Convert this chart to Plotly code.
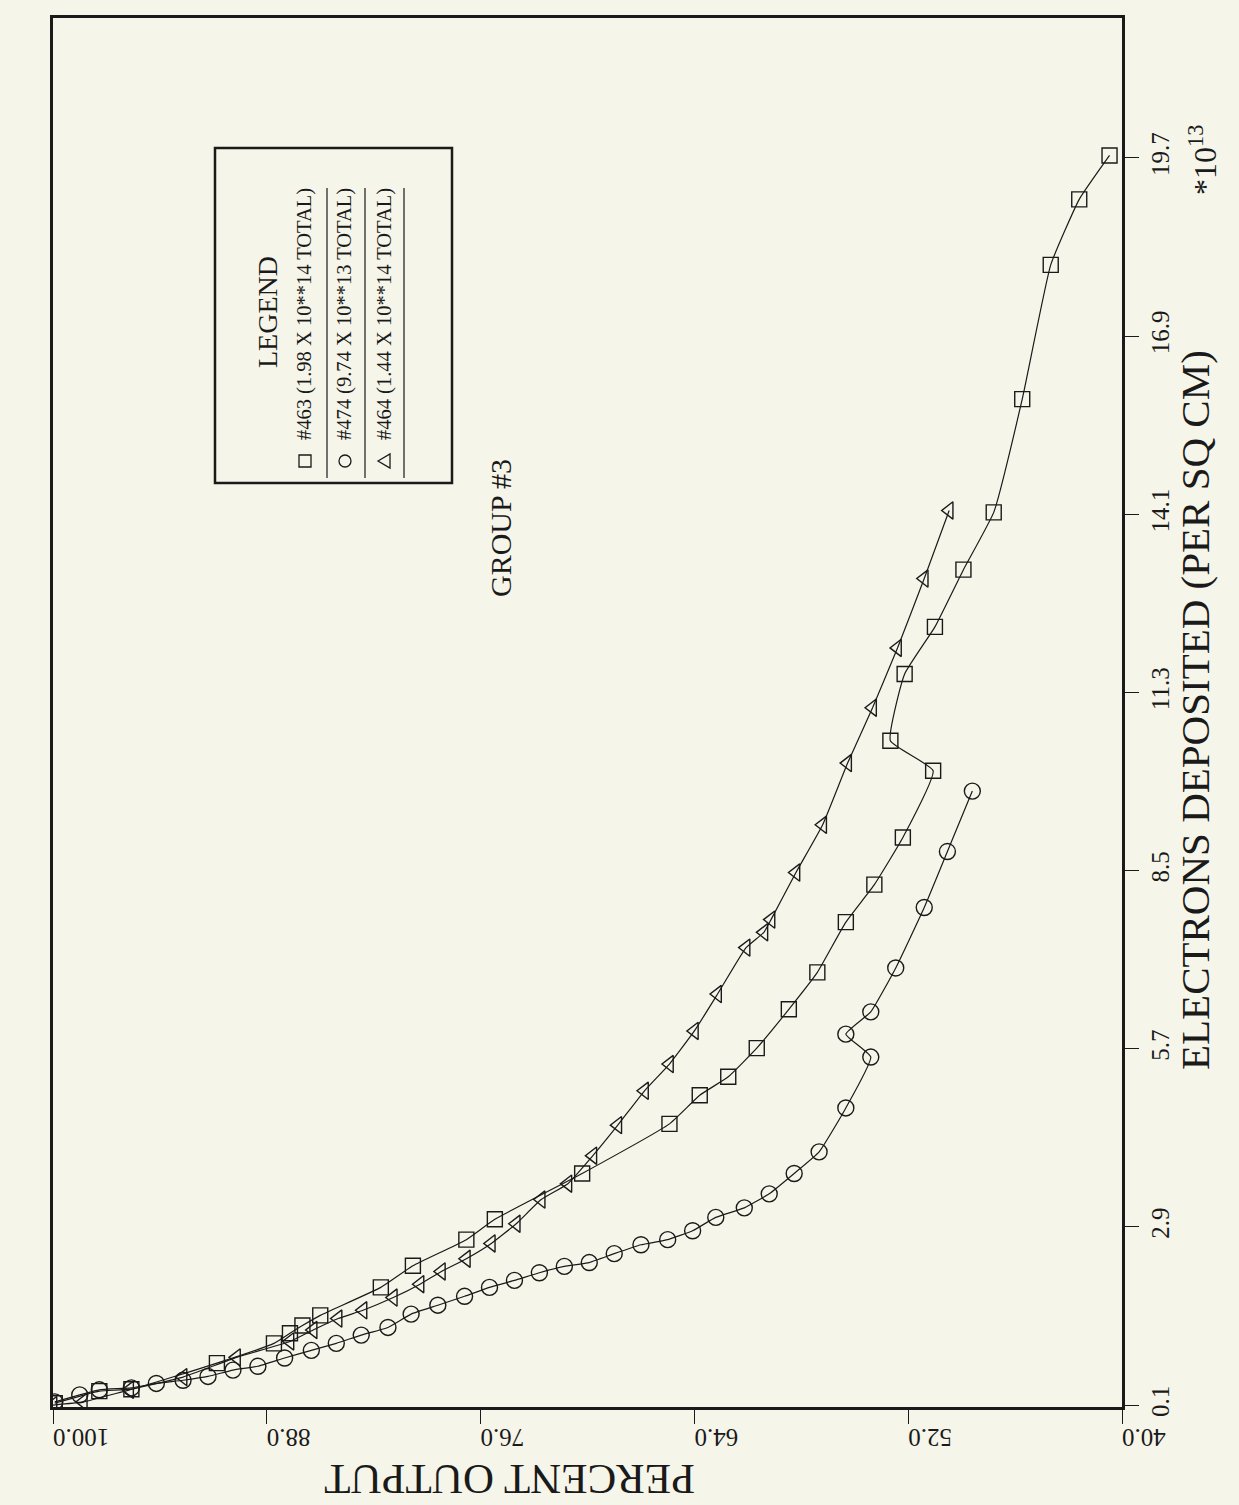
import plotly.graph_objects as go

# Series #463 (squares): percent output vs electrons deposited (x10^13 per sq cm)
sq_pct = [99.9, 97.4, 95.6, 90.8, 87.6, 86.7, 86.0, 85.0, 81.6, 79.8, 76.8, 75.2, 70.3, 65.4,
          63.7, 62.1, 60.5, 58.7, 57.1, 55.5, 53.9, 52.3, 50.6, 53.0, 52.2, 50.5, 48.9, 47.2,
          45.6, 44.0, 42.4, 40.7]
sq_el = [0.13, 0.32, 0.35, 0.76, 1.07, 1.23, 1.35, 1.51, 1.95, 2.29, 2.70, 3.02, 3.74, 4.52,
         4.97, 5.26, 5.71, 6.32, 6.90, 7.69, 8.28, 9.02, 10.07, 10.54, 11.59, 12.33, 13.23, 14.13,
         15.91, 18.02, 19.05, 19.74]

# Series #474 (circles)
ci_pct = [99.9, 98.5, 97.4, 95.6, 94.2, 92.7, 91.3, 89.9, 88.5, 87.0, 85.5, 84.1, 82.7, 81.2,
          79.9, 78.4, 76.9, 75.5, 74.1, 72.7, 71.3, 69.9, 68.5, 67.0, 65.5, 64.1, 62.8, 61.2,
          59.8, 58.4, 57.0, 55.5, 54.1, 55.5, 54.1, 52.7, 51.1, 49.8, 48.4]
ci_el = [0.15, 0.26, 0.34, 0.37, 0.44, 0.49, 0.55, 0.65, 0.71, 0.84, 0.96, 1.07, 1.20, 1.32,
         1.53, 1.67, 1.81, 1.95, 2.06, 2.18, 2.28, 2.34, 2.48, 2.62, 2.70, 2.84, 3.05, 3.20,
         3.42, 3.74, 4.08, 4.77, 5.57, 5.93, 6.28, 6.97, 7.92, 8.80, 9.75]

# Series #464 (triangles)
tr_pct = [100.0, 98.3, 95.7, 92.7, 89.7, 86.7, 85.4, 84.0, 82.6, 80.9, 79.4, 78.2, 76.8, 75.4,
          74.0, 72.6, 71.1, 69.7, 68.3, 66.8, 65.4, 64.0, 62.7, 61.1, 60.1, 59.7, 58.3, 56.8,
          55.4, 54.0, 52.6, 51.1, 49.7]
tr_el = [0.10, 0.15, 0.34, 0.54, 0.85, 1.10, 1.28, 1.46, 1.59, 1.79, 2.00, 2.20, 2.40, 2.64,
         2.95, 3.33, 3.58, 4.02, 4.50, 5.04, 5.46, 5.98, 6.56, 7.29, 7.53, 7.73, 8.47, 9.22,
         10.19, 11.06, 12.00, 13.09, 14.16]

pct_ticks = [100.0, 88.0, 76.0, 64.0, 52.0, 40.0]
pct_labels = ["100.0", "88.0", "76.0", "64.0", "52.0", "40.0"]
el_ticks = [0.1, 2.9, 5.7, 8.5, 11.3, 14.1, 16.9, 19.7]
el_labels = ["0.1", "2.9", "5.7", "8.5", "11.3", "14.1", "16.9", "19.7"]

legend_texts = ["#463 (1.98 X 10**14 TOTAL)", "#474 (9.74 X 10**13 TOTAL)", "#464 (1.44 X 10**14 TOTAL)"]

FONT = "Liberation Serif"
BG = "#f6f5e9"
INK = "#1a1a1a"

fig = go.Figure()
line_style = dict(color=INK, width=1.2, shape="spline", smoothing=0.4)
fig.add_trace(go.Scatter(x=sq_pct, y=sq_el, mode="lines+markers", line=line_style,
                         marker=dict(symbol="square-open", size=15, color=INK, line=dict(width=1.4))))
fig.add_trace(go.Scatter(x=ci_pct, y=ci_el, mode="lines+markers", line=line_style,
                         marker=dict(symbol="circle-open", size=16, color=INK, line=dict(width=1.4))))
fig.add_trace(go.Scatter(x=tr_pct, y=tr_el, mode="lines+markers", line=line_style,
                         marker=dict(symbol="triangle-left-open", size=15, color=INK, line=dict(width=1.4))))

L, R, T, B = 53, 117, 18, 98
W, H = 1239, 1505
pw, ph = W - L - R, H - T - B

def px(x):
    return (x - L) / pw

def py(y):
    return (H - B - y) / ph

shapes = []
# legend box
shapes.append(dict(type="rect", xref="paper", yref="paper", x0=px(215), x1=px(452), y0=py(483), y1=py(148),
                   line=dict(color=INK, width=2.5)))
for lx in (327, 365, 404):
    shapes.append(dict(type="line", xref="paper", yref="paper", x0=px(lx), x1=px(lx), y0=py(478), y1=py(188),
                       line=dict(color=INK, width=1.2)))
# legend symbols
shapes.append(dict(type="rect", xref="paper", yref="paper", x0=px(299), x1=px(311), y0=py(467), y1=py(455),
                   line=dict(color=INK, width=1.3)))
shapes.append(dict(type="circle", xref="paper", yref="paper", x0=px(339), x1=px(351), y0=py(467), y1=py(455),
                   line=dict(color=INK, width=1.3)))
shapes.append(dict(type="path", xref="paper", yref="paper",
                   path=f"M {px(378)} {py(461)} L {px(390)} {py(454)} L {px(390)} {py(468)} Z",
                   line=dict(color=INK, width=1.3)))

annotations = []
def ann(text, x, y, angle, size):
    annotations.append(dict(text=text, xref="paper", yref="paper", x=px(x), y=py(y), showarrow=False,
                            textangle=angle, font=dict(family=FONT, size=size, color=INK),
                            xanchor="center", yanchor="middle"))

ann("LEGEND", 267, 312, -90, 28)
for tx, t in zip((305, 345, 385), legend_texts):
    ann(t, tx, 314, -90, 20.5)
ann("GROUP #3", 500, 528, -90, 30)
ann("ELECTRONS DEPOSITED (PER SQ CM)", 1195, 710, -90, 41)
ann("*10<sup>13</sup>", 1203, 160, -90, 32)
ann("PERCENT OUTPUT", 510, 1480, 180, 43)

fig.update_layout(
    width=W, height=H,
    margin=dict(l=L, r=R, t=T, b=B),
    paper_bgcolor=BG, plot_bgcolor=BG,
    showlegend=False,
    shapes=shapes, annotations=annotations,
    xaxis=dict(range=[100, 40], tickvals=pct_ticks, ticktext=pct_labels, tickangle=180,
               ticks="outside", ticklen=14, tickcolor=INK, tickwidth=1.2,
               showline=True, linecolor=INK, linewidth=2.5, mirror=True,
               showgrid=False, zeroline=False,
               tickfont=dict(family=FONT, size=25, color=INK)),
    yaxis=dict(range=[0.07, 21.9], tickvals=el_ticks, ticktext=el_labels, tickangle=-90, side="right",
               ticks="outside", ticklen=14, tickcolor=INK, tickwidth=1.2,
               showline=True, linecolor=INK, linewidth=2.5, mirror=True,
               showgrid=False, zeroline=False,
               tickfont=dict(family=FONT, size=25, color=INK)),
)

fig.write_html("out.html", config={"displayModeBar": False},
               post_script="document.body.style.margin='0';document.body.style.background='" + BG + "';")
